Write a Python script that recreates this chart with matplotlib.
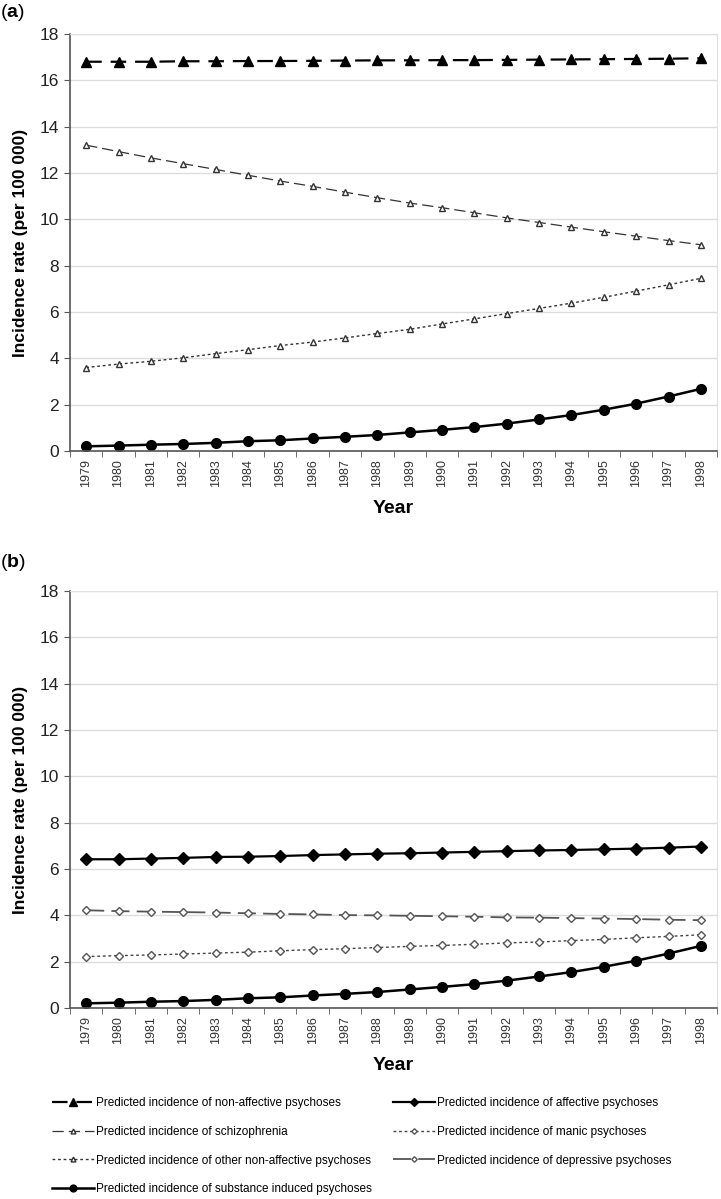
import numpy as np
import matplotlib
matplotlib.use('Agg')
import matplotlib.pyplot as plt

plt.rcParams['font.family'] = ['Liberation Sans', 'DejaVu Sans']
plt.rcParams['mathtext.fontset'] = 'custom'
plt.rcParams['mathtext.rm'] = 'Liberation Sans'
plt.rcParams['mathtext.bf'] = 'Liberation Sans:bold'

NARROW = ['Liberation Sans Narrow', 'Liberation Sans', 'DejaVu Sans']

years = [str(y) for y in range(1979, 1999)]

# panel (a)
non_affective = [16.80, 16.80, 16.80, 16.82, 16.82, 16.83, 16.83, 16.84, 16.85, 16.86,
                 16.86, 16.87, 16.87, 16.88, 16.89, 16.90, 16.91, 16.92, 16.93, 16.95]
schizophrenia = [13.20, 12.92, 12.65, 12.40, 12.15, 11.90, 11.65, 11.42, 11.17, 10.93,
                 10.70, 10.50, 10.28, 10.06, 9.86, 9.66, 9.46, 9.27, 9.08, 8.90]
other_nonaff = [3.60, 3.75, 3.87, 4.02, 4.20, 4.37, 4.55, 4.70, 4.88, 5.07,
                5.25, 5.48, 5.70, 5.93, 6.15, 6.38, 6.63, 6.90, 7.17, 7.45]
substance = [0.20, 0.23, 0.27, 0.30, 0.35, 0.42, 0.46, 0.54, 0.61, 0.69,
             0.80, 0.91, 1.03, 1.18, 1.36, 1.55, 1.78, 2.04, 2.35, 2.68]

# panel (b)
affective = [6.42, 6.42, 6.45, 6.48, 6.52, 6.53, 6.56, 6.60, 6.63, 6.66,
             6.68, 6.71, 6.74, 6.77, 6.80, 6.82, 6.85, 6.88, 6.92, 6.97]
manic = [2.22, 2.26, 2.29, 2.33, 2.37, 2.41, 2.47, 2.52, 2.56, 2.61,
         2.66, 2.70, 2.75, 2.81, 2.85, 2.91, 2.96, 3.03, 3.09, 3.16]
depressive = [4.22, 4.18, 4.16, 4.14, 4.12, 4.09, 4.06, 4.04, 4.01, 4.00,
              3.98, 3.96, 3.94, 3.91, 3.90, 3.88, 3.86, 3.84, 3.81, 3.79]

x = np.arange(len(years))

fig = plt.figure(figsize=(7.21, 11.99), dpi=100)
ax_a = fig.add_axes([0.0971, 0.6239, 0.8974, 0.3478])
ax_b = fig.add_axes([0.0971, 0.1593, 0.8974, 0.3478])


def style_axis(ax):
    ax.set_xlim(-0.5, len(years) - 0.5)
    ax.set_ylim(0, 18)
    ax.set_yticks(np.arange(0, 19, 2))
    ax.set_xticks(x)
    ax.set_xticklabels(years, rotation=90, fontsize=9, family=NARROW, color='#333333')
    ax.set_xticks(np.arange(-0.5, len(years), 1), minor=True)
    ax.tick_params(axis='x', which='major', length=0, pad=6)
    ax.tick_params(axis='x', which='minor', length=4, color='#555555', direction='out')
    ax.tick_params(axis='y', length=4, color='#555555', labelsize=12.5, labelcolor='#222222', pad=4)
    ax.grid(axis='y', color='#dcdcdc', linewidth=1)
    ax.set_axisbelow(True)
    for s in ['left', 'bottom']:
        ax.spines[s].set_color('#555555')
        ax.spines[s].set_linewidth(1.2)
    for s in ['top', 'right']:
        ax.spines[s].set_color('#e0e0e0')
    ax.set_ylabel('Incidence rate (per 100 000)', fontsize=12.5, fontweight='bold', labelpad=8)
    ax.set_xlabel('Year', fontsize=14, fontweight='bold', family=NARROW, labelpad=9)


h_nonaff, = ax_a.plot(x, non_affective, color='black', lw=1.6, dashes=(7, 4),
                      marker='^', markersize=7.5, markerfacecolor='black', markeredgecolor='black',
                      label='Predicted incidence of non-affective psychoses')
h_schiz, = ax_a.plot(x, schizophrenia, color='#333333', lw=0.9, dashes=(9, 4),
                     marker='^', markersize=5, markerfacecolor='white', markeredgecolor='#333333',
                     label='Predicted incidence of schizophrenia')
h_other, = ax_a.plot(x, other_nonaff, color='#333333', lw=1.0, dashes=(2, 2),
                     marker='^', markersize=5, markerfacecolor='white', markeredgecolor='#333333',
                     label='Predicted incidence of other non-affective psychoses')
h_subst, = ax_a.plot(x, substance, color='black', lw=1.8, marker='o', markersize=7,
                     label='Predicted incidence of substance induced psychoses')

h_aff, = ax_b.plot(x, affective, color='black', lw=1.6, marker='D', markersize=6,
                   label='Predicted incidence of affective psychoses')
h_manic, = ax_b.plot(x, manic, color='#444444', lw=1.0, dashes=(2, 2),
                     marker='D', markersize=4, markerfacecolor='white', markeredgecolor='#555555',
                     label='Predicted incidence of manic psychoses')
h_depr, = ax_b.plot(x, depressive, color='#555555', lw=1.3, dashes=(10, 4),
                    marker='D', markersize=4, markerfacecolor='white', markeredgecolor='#555555',
                    label='Predicted incidence of depressive psychoses')
ax_b.plot(x, substance, color='black', lw=1.8, marker='o', markersize=7)

style_axis(ax_a)
style_axis(ax_b)

fig.text(0.0, 0.9895, r'($\mathbf{a}$)', fontsize=14, va='center', ha='left')
fig.text(0.0, 0.5305, r'($\mathbf{b}$)', fontsize=14, va='center', ha='left')

leg_kw = dict(frameon=False, handlelength=3.6, handletextpad=0.15, markerscale=0.7,
              labelspacing=1.42, borderaxespad=0, borderpad=0,
              prop={'family': NARROW, 'size': 8.5})
fig.legend(handles=[h_nonaff, h_schiz, h_other, h_subst], loc='upper left',
           bbox_to_anchor=(0.072, 0.085), **leg_kw)
fig.legend(handles=[h_aff, h_manic, h_depr], loc='upper left',
           bbox_to_anchor=(0.545, 0.085), **leg_kw)

plt.savefig('out.png', dpi=100)
